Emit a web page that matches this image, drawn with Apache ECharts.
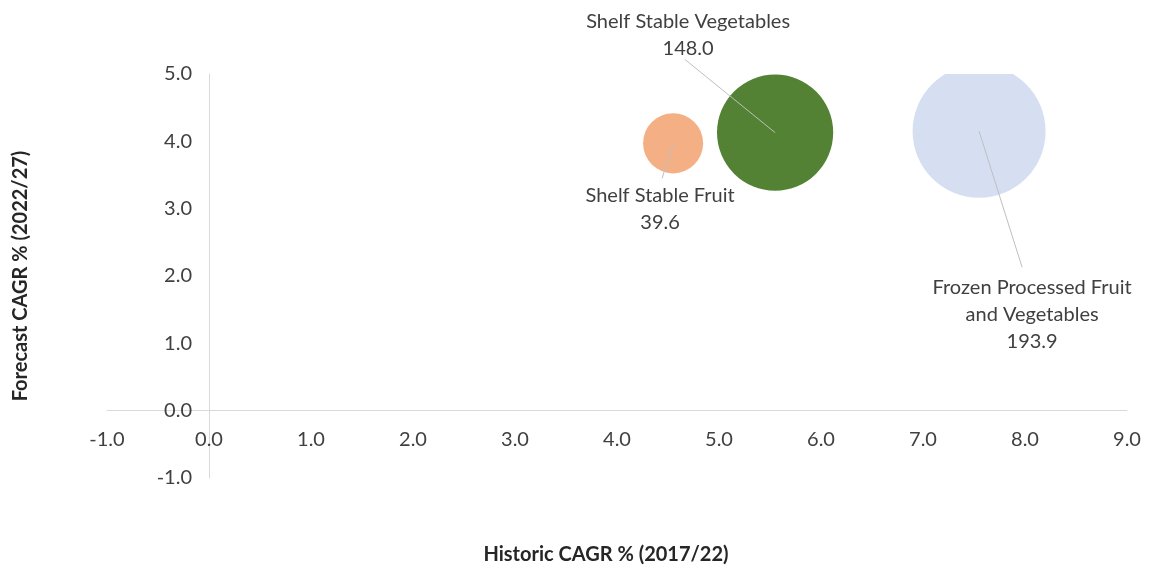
<!DOCTYPE html>
<html>
<head>
<meta charset="utf-8">
<script src="https://cdn.jsdelivr.net/npm/echarts@6/dist/echarts.min.js"></script>
<style>
  html, body { margin: 0; padding: 0; background: #ffffff; }
  #chart { width: 1159px; height: 569px; }
</style>
</head>
<body>
<div id="chart"></div>
<script>
// ---- data ----
const categories = ['Shelf Stable Fruit', 'Shelf Stable Vegetables', 'Frozen Processed Fruit\nand Vegetables'];
const historicCAGR = [4.55, 5.55, 7.55];
const forecastCAGR = [3.97, 4.13, 4.15];
const marketSize = [39.6, 148.0, 193.9];
const xTicks = { min: -1, max: 9, interval: 1 };
const yTicks = { min: -1, max: 5, interval: 1 };

// ---- styling / layout (not data) ----
const colors = ['#F4B084', '#548235', '#D6DFF1'];
const sizeScale = 9.55; // diameter = sizeScale * sqrt(value)
const labelLayout = [
  { dx: -13, dy: 66, lx: -11, ly: 35 },
  { dx: -87, dy: -98, lx: -90, ly: -73 },
  { dx: 53, dy: 183, lx: 43, ly: 136 }
];
const FONT = 'Lato, "Open Sans", sans-serif';
const TEXT = '#404040';
const W = 1159, H = 569;
const G = { left: 107, right: 32, top: 74, bottom: 91 };
const gridW = W - G.left - G.right, gridH = H - G.top - G.bottom;
// shift axes so they cross at zero (labels follow the lines)
const xAxisOffset = -((0 - yTicks.min) / (yTicks.max - yTicks.min)) * gridH;
const yAxisOffset = -((0 - xTicks.min) / (xTicks.max - xTicks.min)) * gridW;

const items = categories.map((c, i) => [historicCAGR[i], forecastCAGR[i], marketSize[i], i]);

const chart = echarts.init(document.getElementById('chart'), null, { renderer: 'canvas' });
chart.setOption({
  backgroundColor: '#ffffff',
  animation: false,
  grid: { left: G.left, right: G.right, top: G.top, bottom: G.bottom, containLabel: false, outerBoundsMode: 'none' },
  xAxis: {
    type: 'value', min: xTicks.min, max: xTicks.max, interval: xTicks.interval,
    position: 'bottom', offset: xAxisOffset,
    axisLine: { onZero: false, lineStyle: { color: '#D9D9D9', width: 1 } },
    axisTick: { show: false },
    splitLine: { show: false },
    axisLabel: { margin: 19, color: TEXT, fontFamily: FONT, fontSize: 20, formatter: v => v.toFixed(1) },
    name: 'Historic CAGR % (2017/22)', nameLocation: 'middle', nameGap: 134,
    nameTextStyle: { fontFamily: FONT, fontSize: 20, fontWeight: 'bold', color: '#262626', padding: [0, 22, 0, 0] }
  },
  yAxis: {
    type: 'value', min: yTicks.min, max: yTicks.max, interval: yTicks.interval,
    position: 'left', offset: yAxisOffset,
    axisLine: { onZero: false, lineStyle: { color: '#D9D9D9', width: 1 } },
    axisTick: { show: false },
    splitLine: { show: false },
    axisLabel: { margin: 17, color: TEXT, fontFamily: FONT, fontSize: 20, formatter: v => v.toFixed(1) },
    name: 'Forecast CAGR % (2022/27)', nameLocation: 'middle', nameGap: 178,
    nameTextStyle: { fontFamily: FONT, fontSize: 20, fontWeight: 'bold', color: '#262626' }
  },
  series: [
    {
      type: 'custom',
      clip: true,
      data: items,
      renderItem: function (params, api) {
        const p = api.coord([api.value(0), api.value(1)]);
        const r = sizeScale * Math.sqrt(api.value(2)) / 2;
        const idx = api.value(3);
        return {
          type: 'circle',
          shape: { cx: p[0], cy: p[1], r: r },
          style: { fill: colors[idx] }
        };
      },
      z: 2
    },
    {
      type: 'custom',
      clip: false,
      data: items,
      renderItem: function (params, api) {
        const p = api.coord([api.value(0), api.value(1)]);
        const idx = api.value(3);
        const L = labelLayout[idx];
        return {
          type: 'group',
          children: [
            {
              type: 'line',
              shape: { x1: p[0], y1: p[1], x2: p[0] + L.lx, y2: p[1] + L.ly },
              style: { stroke: '#BFBFBF', lineWidth: 1 }
            },
            {
              type: 'text',
              x: p[0] + L.dx, y: p[1] + L.dy,
              style: {
                text: categories[idx] + '\n' + api.value(2).toFixed(1),
                fill: TEXT, font: '20px ' + FONT, lineHeight: 27,
                align: 'center', verticalAlign: 'middle'
              }
            }
          ]
        };
      },
      z: 3
    }
  ]
});
</script>
</body>
</html>
